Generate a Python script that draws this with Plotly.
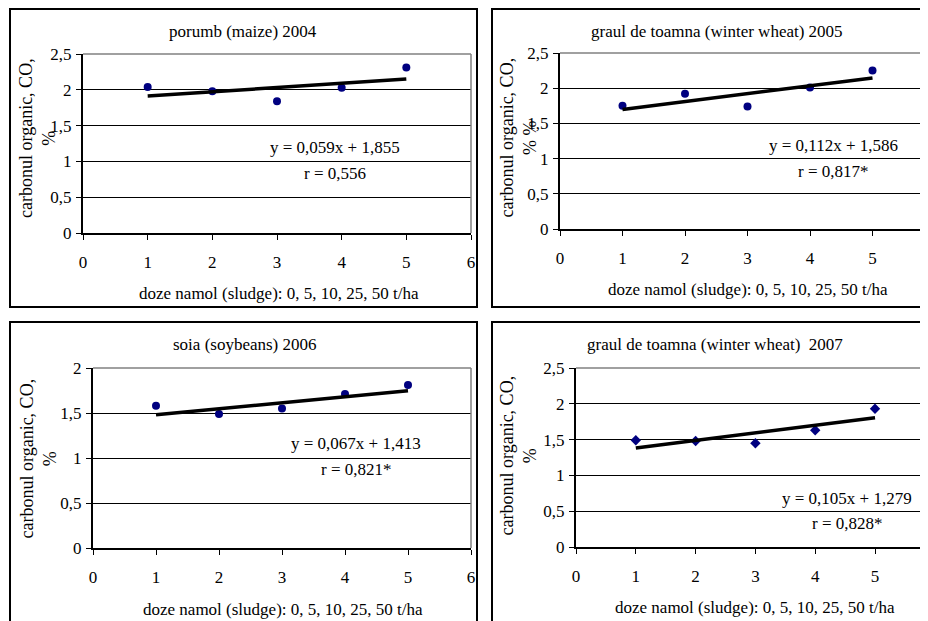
import plotly.graph_objects as go

# ---------------- data ----------------
X_DOSE = [1, 2, 3, 4, 5]
CO_2004 = [2.04, 1.98, 1.84, 2.03, 2.31]
CO_2005 = [1.75, 1.92, 1.74, 2.01, 2.25]
CO_2006 = [1.58, 1.49, 1.55, 1.71, 1.81]
CO_2007 = [1.49, 1.48, 1.45, 1.63, 1.93]
SERIES = [CO_2004, CO_2005, CO_2006, CO_2007]

SLOPES = [0.059, 0.112, 0.067, 0.105]
INTERCEPTS = [1.855, 1.586, 1.413, 1.279]

TITLES = ["porumb (maize) 2004",
          "graul de toamna (winter wheat) 2005",
          "soia (soybeans) 2006",
          "graul de toamna (winter wheat)  2007"]
EQ_TEXT = ["y = 0,059x + 1,855", "y = 0,112x + 1,586",
           "y = 0,067x + 1,413", "y = 0,105x + 1,279"]
R_TEXT = ["r = 0,556", "r = 0,817*", "r = 0,821*", "r = 0,828*"]
X_TITLE = "doze namol (sludge): 0, 5, 10, 25, 50 t/ha"
Y_TITLES = ["carbonul organic, CO,<br>%", "carbonul organic, CO,<br>% %",
            "carbonul organic, CO,<br>%", "carbonul organic, CO,<br>%"]

X_TICKS = [0, 1, 2, 3, 4, 5, 6]
X_TICK_LABELS = ["0", "1", "2", "3", "4", "5", "6"]
Y_TICKS_A = [0, 0.5, 1, 1.5, 2, 2.5]
Y_TICK_LABELS_A = ["0", "0,5", "1", "1,5", "2", "2,5"]
Y_TICKS_B = [0, 0.5, 1, 1.5, 2]
Y_TICK_LABELS_B = ["0", "0,5", "1", "1,5", "2"]

# ---------------- layout helpers ----------------
OFF = 8                       # page body margin of the written html
W, H = 928 - OFF, 621 - OFF   # figure size so it fits the window
def fx(p): return (p - OFF) / W
def fy(p): return 1 - (p - OFF) / H

FONT = "Liberation Serif, Times New Roman, DejaVu Serif, serif"
NAVY = "#000080"

panels = [
    dict(xd=(83, 471), yd=(54, 233), xmax=6.0, yt=(Y_TICKS_A, Y_TICK_LABELS_A), ymax=2.5,
         box=(10, 9, 477, 307), title=(243, 32), xt=(279, 293), ytl=(37.5, 138.5),
         eq=(335, 148), r=(335, 173), sym="circle", right_border=True),
    dict(xd=(560, 928), yd=(53, 229), xmax=5.888, yt=(Y_TICKS_A, Y_TICK_LABELS_A), ymax=2.5,
         box=(492, 9, 940, 307), title=(717, 32), xt=(748, 289), ytl=(517.5, 138),
         eq=(833, 145), r=(833, 172), sym="circle", right_border=False),
    dict(xd=(93, 471), yd=(368, 548), xmax=6.0, yt=(Y_TICKS_B, Y_TICK_LABELS_B), ymax=2.0,
         box=(10, 322, 477, 640), title=(245, 344), xt=(283, 609), ytl=(37.5, 459),
         eq=(356, 443), r=(356, 469), sym="circle", right_border=True),
    dict(xd=(576, 928), yd=(368, 547), xmax=5.886, yt=(Y_TICKS_A, Y_TICK_LABELS_A), ymax=2.5,
         box=(492, 322, 940, 640), title=(715, 344), xt=(755, 607), ytl=(517.5, 456),
         eq=(847, 498), r=(847, 523), sym="diamond", right_border=False),
]

fig = go.Figure()
shapes = []
annotations = []
layout_axes = {}

for i, p in enumerate(panels):
    n = i + 1
    xa = "x" if n == 1 else f"x{n}"
    ya = "y" if n == 1 else f"y{n}"
    xkey = "xaxis" if n == 1 else f"xaxis{n}"
    ykey = "yaxis" if n == 1 else f"yaxis{n}"

    # scatter points
    fig.add_trace(go.Scatter(
        x=X_DOSE, y=SERIES[i], mode="markers", xaxis=xa, yaxis=ya,
        marker=dict(symbol=p["sym"], size=8, color=NAVY, line=dict(width=0)),
        showlegend=False, hoverinfo="x+y"))
    # trend line from the reported equation
    tx = [X_DOSE[0], X_DOSE[-1]]
    ty = [SLOPES[i] * v + INTERCEPTS[i] for v in tx]
    fig.add_trace(go.Scatter(
        x=tx, y=ty, mode="lines", xaxis=xa, yaxis=ya,
        line=dict(color="black", width=3.5), showlegend=False, hoverinfo="skip"))

    layout_axes[xkey] = dict(
        domain=[fx(p["xd"][0]), min(1.0, fx(p["xd"][1]))], range=[0, p["xmax"]],
        anchor=ya, tickmode="array", tickvals=X_TICKS, ticktext=X_TICK_LABELS,
        showgrid=False, zeroline=False, showline=True, linecolor="black", linewidth=2,
        ticks="outside", ticklen=5, tickcolor="black", tickwidth=1,
        ticklabelstandoff=8, automargin=False,
        tickfont=dict(family=FONT, size=17, color="black"), fixedrange=True)
    layout_axes[ykey] = dict(
        domain=[fy(p["yd"][1]), fy(p["yd"][0])], range=[0, p["ymax"]],
        anchor=xa, tickmode="array", tickvals=p["yt"][0], ticktext=p["yt"][1],
        showgrid=True, gridcolor="black", gridwidth=1, zeroline=False,
        showline=True, linecolor="black", linewidth=2,
        ticks="outside", ticklen=5, tickcolor="black", tickwidth=1,
        ticklabelstandoff=1, automargin=False,
        tickfont=dict(family=FONT, size=17, color="black"), fixedrange=True)

    # outer chart box
    bx0, by0, bx1, by1 = p["box"]
    shapes.append(dict(type="rect", xref="paper", yref="paper",
                       x0=fx(bx0), x1=fx(bx1), y0=fy(by1), y1=fy(by0),
                       line=dict(color="black", width=2), fillcolor="rgba(0,0,0,0)",
                       layer="above"))
    # plot-area border (gray) top and right
    shapes.append(dict(type="line", xref=f"{xa} domain", yref=f"{ya} domain",
                       x0=0, x1=1, y0=1, y1=1, line=dict(color="#808080", width=1.5),
                       layer="above"))
    if p["right_border"]:
        shapes.append(dict(type="line", xref=f"{xa} domain", yref=f"{ya} domain",
                           x0=1, x1=1, y0=0, y1=1, line=dict(color="#808080", width=1.5),
                           layer="above"))

    def ann(text, pos, size=17, angle=0):
        annotations.append(dict(
            text=text, xref="paper", yref="paper", x=fx(pos[0]), y=fy(pos[1]),
            xanchor="center", yanchor="middle", showarrow=False, textangle=angle,
            font=dict(family=FONT, size=size, color="black")))

    ann(TITLES[i], p["title"])
    ann(X_TITLE, p["xt"])
    ann(Y_TITLES[i], p["ytl"], size=18, angle=-90)
    ann(EQ_TEXT[i], p["eq"])
    ann(R_TEXT[i], p["r"])

fig.update_layout(
    width=W, height=H, margin=dict(l=0, r=0, t=0, b=0, autoexpand=False),
    paper_bgcolor="white", plot_bgcolor="white",
    shapes=shapes, annotations=annotations, showlegend=False,
    **layout_axes)

fig.write_html("out.html")
